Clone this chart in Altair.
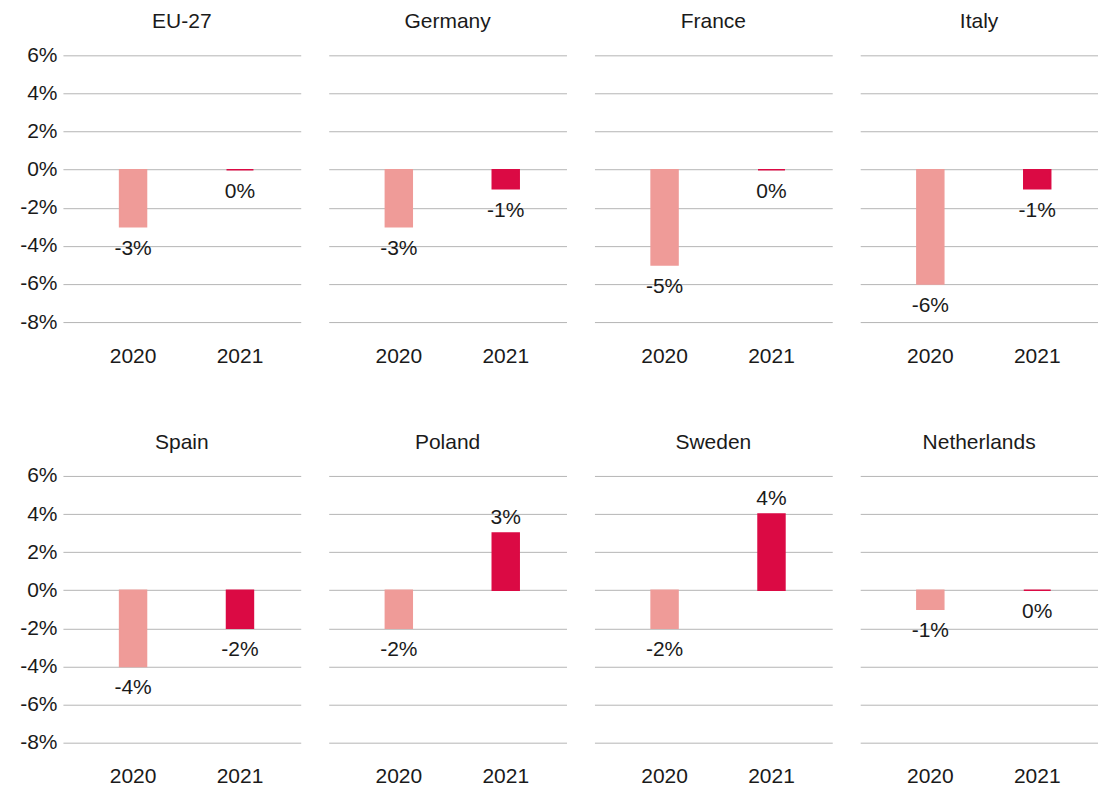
import altair as alt
import pandas as pd

countries = ["EU-27", "Germany", "France", "Italy", "Spain", "Poland", "Sweden", "Netherlands"]
years = ["2020", "2021"]
v2020 = [-3, -3, -5, -6, -4, -2, -2, -1]
v2021 = [0, -1, 0, -1, -2, 3, 4, 0]
y_ticks = [-8, -6, -4, -2, 0, 2, 4, 6]
colors = ["#EF9B98", "#DB0A44"]

rows = []
for c, a, b in zip(countries, v2020, v2021):
    rows.append({"country": c, "year": years[0], "value": a})
    rows.append({"country": c, "year": years[1], "value": b})
df = pd.DataFrame(rows)

FONT = "Liberation Sans"
FS = 21
TXT = "#1a1a1a"

x = alt.X(
    "year:N", title=None,
    scale=alt.Scale(paddingInner=0.748, paddingOuter=0.486, align=0.545),
    axis=alt.Axis(labelAngle=0, domain=False, ticks=False, labelPadding=23,
                  labelFontSize=FS, labelFont=FONT, labelColor=TXT, grid=False),
)
y = alt.Y(
    "value:Q", title=None,
    scale=alt.Scale(domain=[-8, 6], nice=False, zero=True),
    axis=alt.Axis(values=y_ticks, tickCount=len(y_ticks) + 2, labelOverlap=False,
                  labelExpr="datum.value + '%'", domain=False, ticks=False,
                  labelPadding=6, labelFontSize=FS, labelFont=FONT, labelColor=TXT,
                  gridColor="#b5b5b5", gridWidth=1),
)
cscale = alt.Scale(domain=years, range=colors)

bars = alt.Chart().mark_bar(strokeWidth=1.5).encode(
    x=x, y=y,
    color=alt.Color("year:N", scale=cscale, legend=None),
    stroke=alt.Stroke("year:N", scale=cscale, legend=None),
)

t_neg = alt.Chart().transform_filter("datum.value <= 0").transform_calculate(
    label="datum.value + '%'"
).mark_text(baseline="top", dy=11, fontSize=FS, font=FONT, color=TXT).encode(
    x=alt.X("year:N"), y=alt.Y("value:Q"), text="label:N"
)
t_pos = alt.Chart().transform_filter("datum.value > 0").transform_calculate(
    label="datum.value + '%'"
).mark_text(baseline="alphabetic", dy=-9, fontSize=FS, font=FONT, color=TXT).encode(
    x=alt.X("year:N"), y=alt.Y("value:Q"), text="label:N"
)

layer = alt.layer(bars, t_neg, t_pos, data=df).properties(width=238, height=267)

chart = layer.facet(
    facet=alt.Facet("country:N", sort=countries, title=None,
                    header=alt.Header(labelFontSize=FS, labelFont=FONT, labelColor=TXT,
                                      labelPadding=23)),
    columns=4,
    spacing={"row": 66, "column": 28},
).resolve_axis(x="independent").configure_view(stroke=None).properties(
    padding={"left": 11, "top": 3, "right": 0, "bottom": 0}
)

chart.save("out.html", embed_options={"renderer": "svg", "actions": False})
